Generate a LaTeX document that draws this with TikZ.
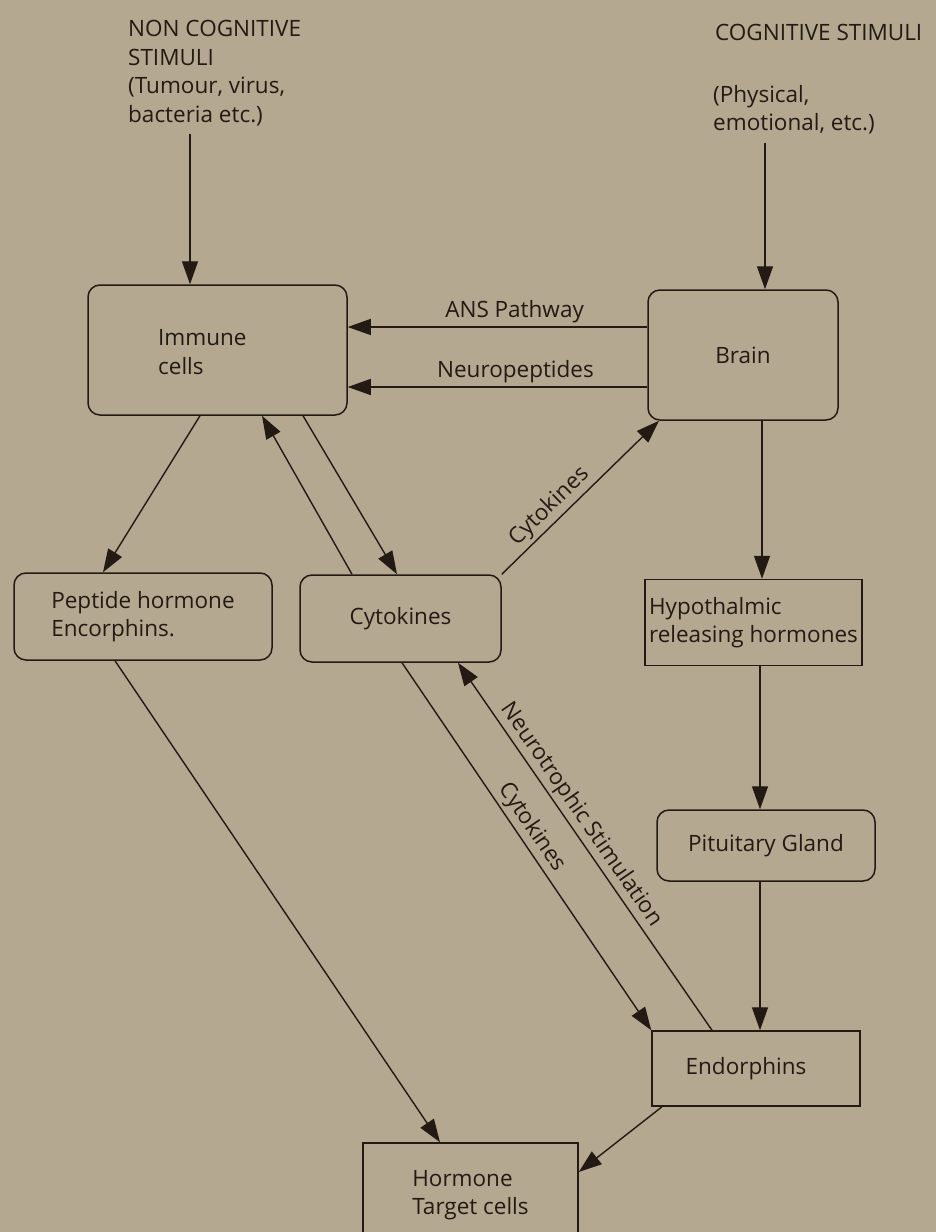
\documentclass[tikz,border=0pt]{standalone}
\usepackage{fontspec}
\setmainfont{Open Sans}
\usetikzlibrary{arrows.meta,calc}
\definecolor{paper}{HTML}{B4A890}
\definecolor{ink}{HTML}{231A14}
\begin{document}
\begin{tikzpicture}[x=1pt,y=-1pt,
  font=\fontsize{22.5}{28.5}\selectfont,
  every node/.append style={text=ink},
  rbox/.style={draw=ink, line width=1.5pt, rounded corners=12pt, inner sep=0pt, align=left},
  sbox/.style={draw=ink, line width=1.5pt, inner sep=0pt, align=left},
  txt/.style={inner sep=0pt, align=left},
  conn/.style={draw=ink, line width=1.4pt, -{Triangle[length=23pt,width=16pt]}},
  elbl/.style={inner sep=3pt},
]
% paper
\fill[paper] (0,0) rectangle (936,1232);
\useasboundingbox (0,0) rectangle (936,1232);

% stimuli captions
\node[txt, anchor=north west] (ncog) at (128,20)
  {NON COGNITIVE\\STIMULI\\(Tumour, virus,\\bacteria etc.)};
\node[txt, anchor=north west] (cog) at (715,24) {COGNITIVE STIMULI};
\node[txt, anchor=north west] (phys) at (713,85) {(Physical,\\emotional, etc.)};

% boxes
\node[rbox, minimum width=259pt, minimum height=130pt] (immune) at (217.5,350) {};
\node[txt, anchor=west] (immunet) at (158,352) {Immune\\cells};
\node[rbox, minimum width=190pt, minimum height=130pt] (brain) at (743,355) {Brain};
\node[rbox, minimum width=258pt, minimum height=87pt] (pep) at (143,616.5) {Peptide hormone\\Encorphins.};
\node[rbox, minimum width=201pt, minimum height=87pt] (cyto) at (400.5,618.5) {Cytokines};
\node[sbox, minimum width=217pt, minimum height=86pt] (hypo) at (753.5,622.5) {Hypothalmic\\releasing hormones};
\node[rbox, minimum width=218pt, minimum height=71pt] (pit) at (766,845.5) {Pituitary Gland};
\node[sbox, minimum width=208pt, minimum height=75pt] (endo) at (756,1068.5) {\hspace*{-20pt}Endorphins};
\node[sbox, minimum width=215pt, minimum height=104pt] (horm) at (470.5,1195) {Hormone\\Target cells};

% stimuli into the system
\draw[conn, shorten <=8pt] (ncog.south -| 190,0) -- (immune.north -| 190,0);
\draw[conn, shorten <=8pt] (phys.south -| 765,0) -- (brain.north -| 765,0);

% brain to immune cells
\draw[conn] (brain.west |- 0,327) -- node[elbl, above, pos=0.443] {ANS Pathway} (immune.east |- 0,327);
\draw[conn] (brain.west |- 0,387) -- node[elbl, above, pos=0.44] {Neuropeptides} (immune.east |- 0,387);

% immune cells and cytokines
\draw[conn] (immune.south -| 200,0) -- (pep.north -| 103,0);
\draw[conn] (cyto.north -| 352,0) -- (immune.south -| 262,0);
\draw[conn] (immune.south -| 303,0) -- (cyto.north -| 397,0);
\draw[conn] (cyto.north east) -- node[elbl, sloped, above, pos=0.37] {Cytokines} (brain.south -| 659,0);

% HPA chain
\draw[conn] (brain.south -| 762,0) -- (hypo.north -| 762,0);
\draw[conn] (hypo.south -| 760,0) -- (pit.north -| 760,0);
\draw[conn] (pit.south -| 760,0) -- (endo.north -| 760,0);

% cytokines and endorphins
\draw[conn] (cyto.south -| 402,0) -- node[elbl, sloped, above, pos=0.47] {Cytokines} (endo.north west);
\draw[conn] (endo.north -| 712,0) -- node[elbl, sloped, above, pos=0.563] {Neurotrophic Stimulation} (cyto.south -| 458,0);

% to target cells
\draw[conn] (pep.south -| 115,0) -- (horm.north -| 440,0);
\draw[conn] (endo.south -| 662,0) -- (horm.east |- 0,1172);
\end{tikzpicture}
\end{document}
